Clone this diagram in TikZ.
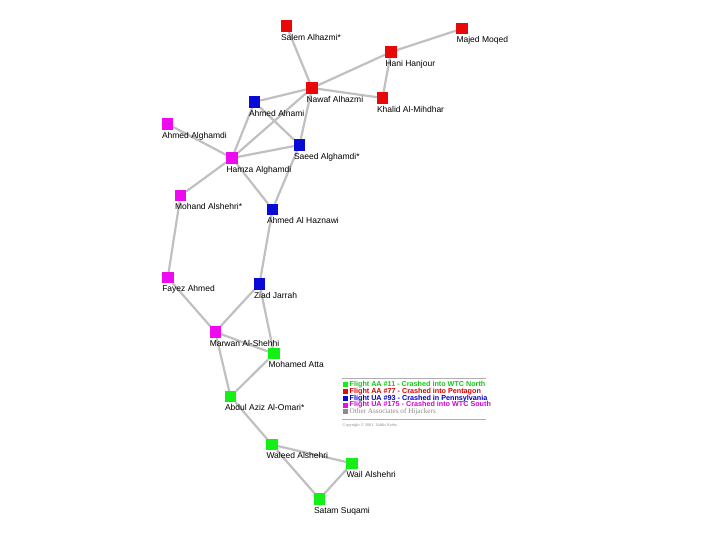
\documentclass[tikz,border=0pt]{standalone}
\usepackage{fontspec}
\setmainfont{Liberation Sans}
\newfontfamily\serifleg{Liberation Serif}
\definecolor{edgegray}{RGB}{192,192,192}
\definecolor{hred}{RGB}{232,8,8}
\definecolor{hblue}{RGB}{10,10,215}
\definecolor{hmag}{RGB}{238,10,238}
\definecolor{hgreen}{RGB}{20,240,20}
\definecolor{lgreen}{RGB}{20,200,20}
\definecolor{lred}{RGB}{220,0,0}
\definecolor{lblue}{RGB}{0,0,200}
\definecolor{lmag}{RGB}{210,0,210}
\definecolor{lgray}{RGB}{140,140,140}
\tikzset{
  person/.style={rectangle, minimum size=11pt, inner sep=0pt, fill=#1,
    draw=none},
  nm/.style={anchor=base west, inner sep=0pt, font=\fontsize{8.5}{10}\selectfont},
  link/.style={draw=edgegray, line width=2.2pt},
  legsq/.style={rectangle, minimum size=5pt, inner sep=0pt, fill=#1},
  legtx/.style={anchor=west, inner sep=0pt, font=\fontsize{7.2}{7}\selectfont\bfseries},
  legrule/.style={draw=lgray!70, line width=0.6pt}
}
\begin{document}
\begin{tikzpicture}[x=1pt,y=-1pt]
\useasboundingbox[fill=white] (0,0) rectangle (720,540);
% people
\node[person=hred]   (salem)    at (286.5,26)   {};
\node[person=hred]   (majed)    at (462,28.7)   {};
\node[person=hred]   (hani)     at (391,52)     {};
\node[person=hred]   (nawaf)    at (312,88)     {};
\node[person=hred]   (khalid)   at (382.5,98)   {};
\node[person=hblue]  (alnami)   at (254.5,102)  {};
\node[person=hmag]   (alghamdi) at (167.5,124)  {};
\node[person=hmag]   (hamza)    at (232,158)    {};
\node[person=hblue]  (saeed)    at (299.5,145)  {};
\node[person=hmag]   (mohand)   at (180.5,195.7){};
\node[person=hblue]  (haznawi)  at (272.5,209.3){};
\node[person=hmag]   (fayez)    at (167.8,277.7){};
\node[person=hblue]  (ziad)     at (259.5,284)  {};
\node[person=hmag]   (marwan)   at (215.3,332)  {};
\node[person=hgreen] (atta)     at (274,353.7)  {};
\node[person=hgreen] (abdul)    at (230.5,396.7){};
\node[person=hgreen] (waleed)   at (272,444.7)  {};
\node[person=hgreen] (wail)     at (352,463.3)  {};
\node[person=hgreen] (satam)    at (319.5,499)  {};
% links
\foreach \a/\b in {salem/nawaf, majed/hani, hani/nawaf, hani/khalid, nawaf/khalid,
  nawaf/alnami, nawaf/saeed, nawaf/hamza, alnami/hamza, alnami/saeed,
  alghamdi/hamza, hamza/saeed, hamza/haznawi, hamza/mohand, saeed/haznawi,
  mohand/fayez, haznawi/ziad, fayez/marwan, ziad/marwan, ziad/atta,
  marwan/atta, marwan/abdul, atta/abdul, abdul/waleed, waleed/wail,
  waleed/satam, wail/satam}
  \draw[link] (\a) -- (\b);
% redraw squares on top
\foreach \n/\c in {salem/hred, majed/hred, hani/hred, nawaf/hred, khalid/hred,
  alnami/hblue, alghamdi/hmag, hamza/hmag, saeed/hblue, mohand/hmag,
  haznawi/hblue, fayez/hmag, ziad/hblue, marwan/hmag, atta/hgreen,
  abdul/hgreen, waleed/hgreen, wail/hgreen, satam/hgreen}
  \fill[\c] (\n.south west) rectangle (\n.north east);
% names
\node[nm] (tsalem)    at ([yshift=-8.5pt]salem.south west)    {Salem Alhazmi*};
\node[nm] (tmajed)    at ([yshift=-8.5pt]majed.south west)    {Majed Moqed};
\node[nm] (thani)     at ([yshift=-8.5pt]hani.south west)     {Hani Hanjour};
\node[nm] (tnawaf)    at ([yshift=-8.5pt]nawaf.south west)    {Nawaf Alhazmi};
\node[nm] (tkhalid)   at ([yshift=-8.5pt]khalid.south west)   {Khalid Al-Mihdhar};
\node[nm] (talnami)   at ([yshift=-8.5pt]alnami.south west)   {Ahmed Alnami};
\node[nm] (talghamdi) at ([yshift=-8.5pt]alghamdi.south west) {Ahmed Alghamdi};
\node[nm] (thamza)    at ([yshift=-8.5pt]hamza.south west)    {Hamza Alghamdi};
\node[nm] (tsaeed)    at ([yshift=-8.5pt]saeed.south west)    {Saeed Alghamdi*};
\node[nm] (tmohand)   at ([yshift=-8.5pt]mohand.south west)   {Mohand Alshehri*};
\node[nm] (thaznawi)  at ([yshift=-8.5pt]haznawi.south west)  {Ahmed Al Haznawi};
\node[nm] (tfayez)    at ([yshift=-8.5pt]fayez.south west)    {Fayez Ahmed};
\node[nm] (tziad)     at ([yshift=-8.5pt]ziad.south west)     {Ziad Jarrah};
\node[nm] (tmarwan)   at ([yshift=-8.5pt]marwan.south west)   {Marwan Al-Shehhi};
\node[nm] (tatta)     at ([yshift=-8.5pt]atta.south west)     {Mohamed Atta};
\node[nm] (tabdul)    at ([yshift=-8.5pt]abdul.south west)    {Abdul Aziz Al-Omari*};
\node[nm] (twaleed)   at ([yshift=-8.5pt]waleed.south west)   {Waleed Alshehri};
\node[nm] (twail)     at ([yshift=-8.5pt]wail.south west)     {Wail Alshehri};
\node[nm] (tsatam)    at ([yshift=-8.5pt]satam.south west)    {Satam Suqami};
% legend
\coordinate (r1a) at (342,378.5);
\coordinate (r1b) at (486,378.5);
\draw[legrule] (r1a) -- (r1b);
\node[legsq=hgreen]  (k1) at (345.5,384.6) {};
\node[legsq=hred]    (k2) at (345.5,391.4) {};
\node[legsq=hblue]   (k3) at (345.5,398.2) {};
\node[legsq=hmag]    (k4) at (345.5,405.0) {};
\node[legsq=lgray]   (k5) at (345.5,411.8) {};
\node[legtx, text=lgreen] (l1) at (349.5,384.6) {Flight AA \#11 - Crashed into WTC North};
\node[legtx, text=lred]   (l2) at (349.5,391.4) {Flight AA \#77 - Crashed into Pentagon};
\node[legtx, text=lblue]  (l3) at (349.5,398.2) {Flight UA \#93 - Crashed in Pennsylvania};
\node[legtx, text=lmag]   (l4) at (349.5,405.0) {Flight UA \#175 - Crashed into WTC South};
\node[anchor=west, inner sep=0pt, text=lgray, font=\serifleg\fontsize{7.2}{7}\selectfont] (l5) at (349.5,411.8) {Other Associates of Hijackers};
\coordinate (r2a) at (342,419.5);
\coordinate (r2b) at (486,419.5);
\draw[legrule] (r2a) -- (r2b);
\node[anchor=west, inner sep=0pt, text=lgray, font=\serifleg\fontsize{4.2}{5}\selectfont] (copy) at (342.5,425) {Copyright © 2001, Valdis Krebs};
\end{tikzpicture}
\end{document}
